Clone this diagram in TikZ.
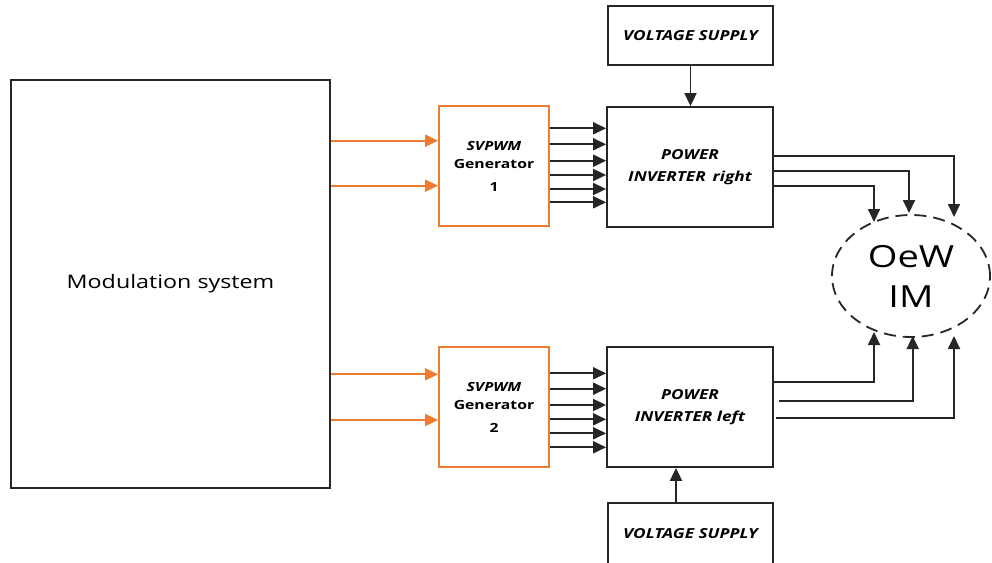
\documentclass[tikz,border=0pt]{standalone}
\usepackage{fontspec}
\setmainfont{Open Sans}[FakeStretch=1.25]
\usetikzlibrary{arrows.meta,shapes.geometric}
\definecolor{genorange}{HTML}{ED7D31}
\colorlet{ink}{black!85}
\tikzset{
  blk/.style={draw=ink, line width=1.8pt, rectangle, inner sep=0pt, align=center},
  genbox/.style={draw=genorange, line width=1.8pt, rectangle, inner sep=0pt, align=center,
    minimum width=110pt, minimum height=120pt, font=\bfseries\fontsize{12.6}{15}\selectfont},
  invbox/.style={blk, minimum width=166pt, minimum height=120pt,
    font=\bfseries\itshape\fontsize{13.8}{22}\selectfont},
  supbox/.style={blk, minimum width=165pt, font=\bfseries\itshape\fontsize{13.8}{16}\selectfont},
  arr/.style={draw=ink, line width=1.8pt, -{Triangle[length=13pt,width=12pt]}},
  oarr/.style={draw=genorange, line width=1.8pt, -{Triangle[length=13pt,width=12pt]}},
}
\begin{document}
\begin{tikzpicture}[x=1pt,y=-1pt]
\useasboundingbox (0,0) rectangle (992,562);
\clip (0,0) rectangle (992,562);

% main blocks
\node[blk, minimum width=319pt, minimum height=408pt, font=\fontsize{18.6}{22}\selectfont]
  (mod) at (170.5,284) {Modulation system};
\node[genbox] (gen1) at (494,166) {\textit{SVPWM}\\[3pt]Generator\\[8pt]1};
\node[genbox] (gen2) at (494,407) {\textit{SVPWM}\\[3pt]Generator\\[8pt]2};
\node[invbox] (invR) at (690,167) {POWER\\INVERTER\, right};
\node[invbox] (invL) at (690,407) {POWER\\INVERTER left};
\node[supbox, minimum height=59pt] (vsT) at (690.5,35.5) {VOLTAGE SUPPLY};
\node[supbox, minimum height=64pt, text depth=0pt] (vsB) at (690.5,535) {\raisebox{3pt}{VOLTAGE SUPPLY}};
\node[draw=ink, line width=1.8pt, dash pattern=on 12pt off 7pt, ellipse,
  minimum width=158pt, minimum height=122pt, inner sep=0pt, align=center,
  font=\fontsize{30.5}{40}\selectfont] (motor) at (911,276) {OeW\\IM};

% modulation references into the generators
\foreach \y in {140.7,185.7}
  \draw[oarr] (mod.east |- 0,\y) -- (gen1.west |- 0,\y);
\foreach \y in {374.3,420}
  \draw[oarr] (mod.east |- 0,\y) -- (gen2.west |- 0,\y);

% gate signals
\foreach \y in {128.3,144.3,160.7,175,189,202.3}
  \draw[arr] (gen1.east |- 0,\y) -- (invR.west |- 0,\y);
\foreach \y in {373.3,388.7,405,419.3,433.3,447.3}
  \draw[arr] (gen2.east |- 0,\y) -- (invL.west |- 0,\y);

% supplies
\draw[arr] (vsT.south) -- (vsT.south |- invR.north);
\draw[arr] (vsB.north -| 676,0) -- (invL.south -| 676,0);

% motor phase terminals
\coordinate (ra) at (954,217);
\coordinate (rb) at (909,213);
\coordinate (rc) at (874,222);
\coordinate (la) at (874,332);
\coordinate (lb) at (912.7,336);
\coordinate (lc) at (954,336);

\draw[arr] (invR.east |- 0,155.7) -| (ra);
\draw[arr] (invR.east |- 0,171) -| (rb);
\draw[arr] (invR.east |- 0,186) -| (rc);
\draw[arr] (invL.east |- 0,382.3) -| (la);
\draw[arr] ([xshift=5pt]invL.east |- 0,401) -| (lb);
\draw[arr] ([xshift=2pt]invL.east |- 0,417.7) -| (lc);
\end{tikzpicture}
\end{document}
